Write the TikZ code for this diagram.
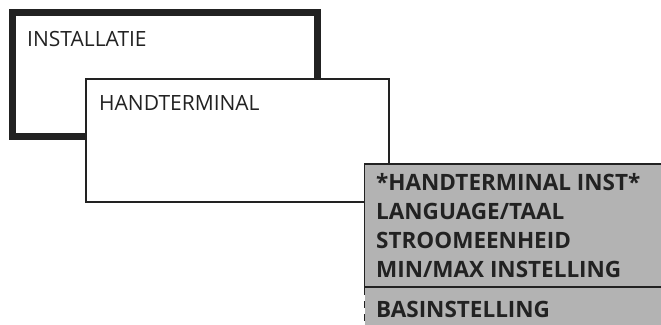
\documentclass[tikz,border=0pt]{standalone}
\usepackage{fontspec}
\setmainfont{Open Sans}
\usetikzlibrary{positioning}
\definecolor{ink}{HTML}{222222}
\definecolor{menugrey}{HTML}{B3B3B3}

\begin{document}
\begin{tikzpicture}[x=1pt,y=-1pt,
  frame/.style={draw=ink,line width=7pt,minimum width=304.5pt,minimum height=124pt,inner sep=0pt},
  panel/.style={draw=ink,line width=2pt,fill=white,minimum width=303pt,minimum height=123pt,inner sep=0pt},
  title/.style={font=\fontsize{21}{21}\selectfont,text=ink,inner sep=0pt,anchor=base west},
  item/.style={font=\fontsize{22.5}{22.5}\bfseries\selectfont,text=ink,inner sep=0pt,anchor=base west},
  rule/.style={draw=ink,line width=1.6pt}]
\useasboundingbox (0,0) rectangle (661,324);
% outer menu level
\node[frame] (inst) at (164.75,74.5) {};
\node[title] (instT) at (27,46.5) {INSTALLATIE};
% second menu level
\node[panel] (hand) at (237.5,140.5) {};
\node[title] (handT) at (99,110) {HANDTERMINAL};
% submenu list
\fill[menugrey] (364.5,164) rectangle (670,330);
\coordinate (mTL) at (364.5,164);
\coordinate (mTR) at (670,164);
\coordinate (mSL) at (364.5,287);
\coordinate (mSR) at (670,287);
\coordinate (mBL) at (364.5,330);
\draw[rule] (mTR) -- (mTL) -- (mSL) -- (mSR);
\draw[rule,dash pattern=on 7pt off 6pt,dash phase=-1pt] (mSL) -- (mBL);
\foreach \txt [count=\i] in {*HANDTERMINAL INST*,LANGUAGE/TAAL,STROOMEENHEID,MIN/MAX INSTELLING}
  \node[item] (item\i) at (376,161+29*\i) {\txt};
\node[item] (itemB) at (376,317) {BASINSTELLING};
\end{tikzpicture}
\end{document}
